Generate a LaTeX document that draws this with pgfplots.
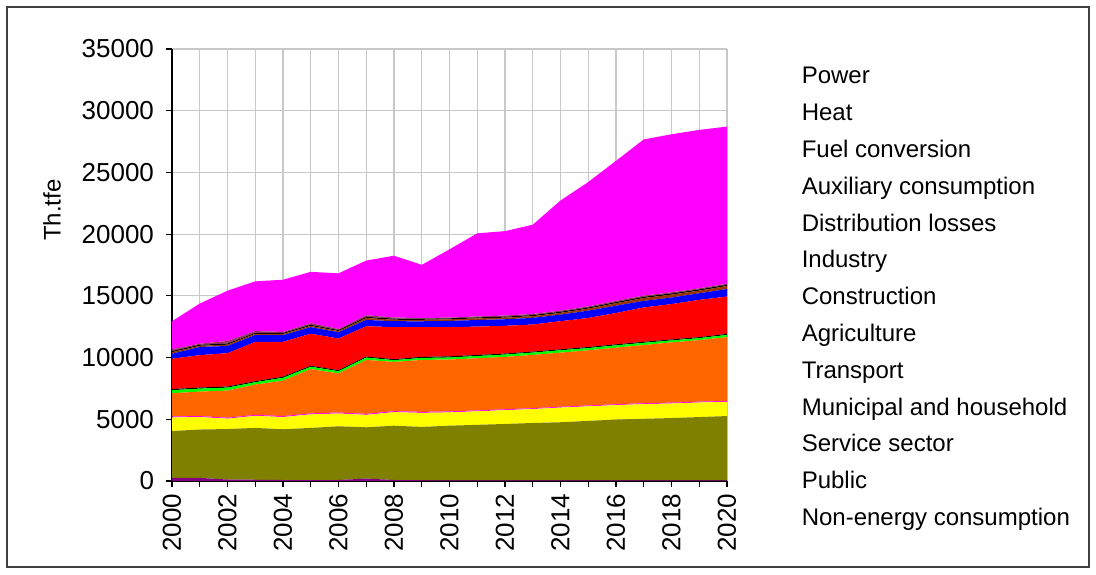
\documentclass[border=0pt]{standalone}
\usepackage{pgfplots}
\pgfplotsset{compat=1.18}
\usepackage{pgfplotstable}
\usepackage{fontspec}
\setmainfont{Liberation Sans}
\definecolor{cpurple}{HTML}{800080}
\definecolor{colive}{HTML}{808000}
\definecolor{cyellow}{HTML}{FFFF00}
\definecolor{cmagenta}{HTML}{FF00FF}
\definecolor{corange}{HTML}{FF6600}
\definecolor{cgreen}{HTML}{00FF00}
\definecolor{cred}{HTML}{FF0000}
\definecolor{cblue}{HTML}{0000FF}
\definecolor{cbrown}{HTML}{993300}
\definecolor{cmauve}{HTML}{993366}
\definecolor{cgrid}{HTML}{C8C8C8}
\pgfplotstableread{
year ne pub ser mun tra agr con ind dis aux fue hea pow
2000 250 3800 1100 80 1880 250 90 2460 400 120 100 130 2280
2001 250 3920 1010 80 1985 240 90 2620 665 95 90 80 3250
2002 120 4090 840 80 2195 240 90 2700 585 105 90 210 4070
2003 100 4200 980 80 2450 190 85 3180 560 100 80 140 4030
2004 80 4110 990 80 2870 230 90 2830 535 100 80 85 4225
2005 80 4220 1100 80 3585 190 80 2595 535 100 90 130 4160
2006 80 4350 1040 80 3165 180 85 2565 510 90 80 100 4500
2007 200 4150 1010 80 4370 190 80 2460 510 150 100 130 4430
2008 80 4400 1100 80 3990 140 80 2595 480 120 90 90 5010
2009 60 4320 1140 80 4210 160 85 2405 480 120 90 50 4310
2010 60 4420 1080 80 4200 170 90 2360 510 130 80 60 5530
2011 60 4490 1100 70 4225 180 85 2300 535 130 80 80 6730
2012 60 4560 1120 70 4245 190 80 2245 535 130 80 90 6840
2013 60 4640 1130 70 4315 190 80 2195 535 140 90 90 7230
2014 60 4700 1190 70 4380 190 80 2275 535 145 90 90 8920
2015 60 4810 1180 70 4470 180 85 2355 590 165 90 90 10080
2016 60 4920 1170 70 4580 190 80 2540 590 200 100 100 11340
2017 60 4980 1190 70 4715 180 85 2780 535 230 100 100 12650
2018 60 5040 1180 70 4880 160 80 2860 535 235 100 90 12800
2019 60 5120 1180 70 4985 160 80 3020 535 215 100 90 12830
2020 60 5200 1160 70 5165 180 85 3020 615 240 100 90 12730
}\datatable
\begin{document}
\begin{tikzpicture}
\path (0,0) rectangle (548bp,287.5bp);
\draw[black!75, line width=0.6pt] (3.5bp,4bp) rectangle (544.5bp,284bp);
\begin{axis}[
  at={(86bp,47bp)}, anchor=south west,
  scale only axis, width=277.5bp, height=216bp,
  xmin=2000, xmax=2020, ymin=0, ymax=35000,
  stack plots=y,
  axis on top=false,
  axis x line*=bottom, axis y line*=left,
  axis line style={black, line width=0.6pt},
  xtick={2000,2002,...,2020},
  minor xtick={2001,2003,...,2019},
  ytick={0,5000,...,35000},
  scaled y ticks=false,
  xmajorgrids, xminorgrids, ymajorgrids,
  grid style={cgrid, line width=0.6pt},
  minor grid style={cgrid, line width=0.6pt},
  tick align=outside,
  major tick length=3bp, minor tick length=3bp,
  tick style={black, line width=0.6pt},
  /pgf/number format/1000 sep={},
  /pgf/number format/assume math mode=true,
  ticklabel style={font=\fontsize{13bp}{15bp}\selectfont},
  xticklabel style={rotate=90, anchor=east},
  yticklabel style={xshift=-2.5bp},
  ylabel={Th.tfe},
  every axis y label/.style={at={(rel axis cs:-0.216,0.627)}, anchor=center, rotate=90, font=\fontsize{12bp}{14bp}\selectfont},
  reverse legend,
  legend image code/.code={},
  legend cell align=left,
  legend style={at={(1.134,0.962)}, anchor=north west, draw=none, fill=none,
    font=\fontsize{12bp}{14bp}\selectfont, inner sep=0pt, row sep=6.8bp,
    nodes={inner sep=0pt, text height=9bp, text depth=2.6bp}},
]
\addplot[draw=none, fill=cpurple] table[x=year, y=ne] {\datatable} \closedcycle;
\addplot[draw=none, fill=colive] table[x=year, y=pub] {\datatable} \closedcycle;
\addplot[draw=none, fill=cyellow] table[x=year, y=ser] {\datatable} \closedcycle;
\addplot[draw=none, fill=cmagenta] table[x=year, y=mun] {\datatable} \closedcycle;
\addplot[draw=none, fill=corange] table[x=year, y=tra] {\datatable} \closedcycle;
\addplot[draw=none, fill=cgreen] table[x=year, y=agr] {\datatable} \closedcycle;
\addplot[draw=none, fill=black] table[x=year, y=con] {\datatable} \closedcycle;
\addplot[draw=none, fill=cred] table[x=year, y=ind] {\datatable} \closedcycle;
\addplot[draw=none, fill=cblue] table[x=year, y=dis] {\datatable} \closedcycle;
\addplot[draw=none, fill=cbrown] table[x=year, y=aux] {\datatable} \closedcycle;
\addplot[draw=none, fill=black] table[x=year, y=fue] {\datatable} \closedcycle;
\addplot[draw=none, fill=cmauve] table[x=year, y=hea] {\datatable} \closedcycle;
\addplot[draw=none, fill=cmagenta] table[x=year, y=pow] {\datatable} \closedcycle;
\legend{Non-energy consumption, Public, Service sector, Municipal and household, Transport, Agriculture, Construction, Industry, Distribution losses, Auxiliary consumption, Fuel conversion, Heat, Power}
\end{axis}
\end{tikzpicture}
\end{document}
